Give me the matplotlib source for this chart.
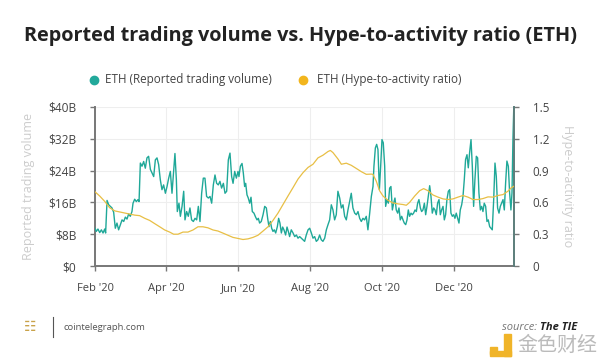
import matplotlib
matplotlib.use("Agg")
import matplotlib.pyplot as plt
import matplotlib.dates as mdates
from matplotlib.lines import Line2D
from matplotlib.patches import Rectangle
import pandas as pd

plt.rcParams['font.family'] = ['Open Sans', 'DejaVu Sans']

# ---------------- data ----------------
start_date = "2020-02-01"
end_day = 354.8

vol_days = [0, 1.1, 2.5, 4.0, 5.4, 6.8, 8.2, 9.0, 10.2, 11.6, 13.0, 14.4, 15.8, 17.2, 18.6, 20.0,
            21.5, 22.9, 24.3, 25.7, 27.1, 28.5, 29.9, 31.3, 32.2, 33.6, 35.0, 36.4, 37.3, 38.4,
            39.8, 41.2, 42.6, 44.0, 45.4, 46.9, 48.3, 49.7, 51.1, 52.5, 53.9, 55.3, 56.7, 58.1,
            59.6, 61.0, 62.4, 63.8, 65.2, 66.6, 67.7, 68.9, 69.7, 71.1, 72.3, 73.7, 75.1, 76.2,
            77.6, 79.0, 80.4, 81.8, 83.3, 84.7, 86.1, 87.5, 88.9, 90.3, 91.7, 93.1, 94.5, 96.0,
            97.4, 98.8, 100.2, 101.6, 103.0, 104.4, 105.8, 107.2, 108.7, 110.1, 111.5, 112.9,
            114.3, 115.7,
            116.9, 118.3, 119.7, 121.1, 121.9, 123.1, 124.5, 125.6, 126.7, 127.6, 128.7, 129.8,
            131.0, 132.1, 133.2, 134.6, 136.0, 137.2, 138.3, 139.4, 140.8, 142.3, 143.7, 145.1,
            146.2, 147.3, 148.5, 149.6, 150.7, 151.8, 153.0, 154.4, 155.5, 156.6, 157.8, 158.9,
            160.0, 161.4, 162.6, 163.7, 164.8, 166.2, 167.7, 169.1, 170.5, 171.9, 173.3, 174.7,
            176.1, 177.5, 178.9, 180.4, 181.8, 183.2, 184.6, 186.0, 187.4, 188.8, 190.2, 191.6,
            193.0, 194.5, 195.9, 197.3, 198.7, 200.1, 201.5, 202.9, 204.3, 205.7, 207.2, 208.6,
            210.0, 211.4, 212.8, 214.2, 215.6, 217.0, 218.4, 219.9, 221.3, 222.7, 224.1, 225.5,
            226.9, 228.3, 229.7, 231.1, 232.6, 234.0,
            235.4, 236.2, 237.4, 238.5, 239.6, 240.8, 241.9, 243.0, 244.1, 245.3, 246.1, 247.2,
            248.4, 249.5, 250.6, 251.8, 252.9, 254.0, 255.1, 256.3, 257.4, 258.5, 259.7, 260.8,
            261.9, 263.1, 264.2, 265.3, 266.4, 267.6, 268.7, 269.8, 271.0, 272.1, 273.2, 274.3,
            275.5, 276.6, 277.7, 278.9, 280.0, 281.1, 282.2, 283.4, 284.5, 285.6, 286.8, 287.9,
            289.0, 290.1, 291.3, 292.4, 293.5, 294.7, 295.8, 296.9, 298.0, 299.2, 300.3, 301.4,
            302.6, 303.7, 304.8, 305.9, 307.1, 308.2, 309.3, 310.5, 311.6, 312.7, 313.8, 315.0,
            316.1, 317.2, 318.4, 319.5, 320.6, 321.7, 322.9, 324.0, 325.1, 326.3, 327.4, 328.5,
            329.6, 330.8, 331.9, 333.0, 334.2, 335.3, 336.4, 337.6, 338.7, 339.8, 340.9, 342.1,
            343.2, 344.3, 345.5, 346.6, 347.7, 348.8, 350.0, 351.1, 352.2, 353.1, 353.9, 354.8]

vol_values = [9.5, 8.7, 9.3, 8.4, 9.1, 8.3, 9.3, 8.3, 16.5, 15.4, 15.0, 14.6, 13.5, 9.5, 10.8, 9.1,
              10.4, 11.6, 11.2, 12.3, 11.8, 13.1, 12.5, 13.7, 15.8, 16.8, 16.2, 16.7, 16.2, 25.9,
              25.1, 26.3, 24.6, 27.2, 27.6, 24.3, 23.4, 22.5, 26.7, 27.2, 25.5, 21.7, 19.2, 20.4,
              18.3, 20.0, 22.1, 23.8, 18.3, 23.8, 28.3, 21.7, 13.7, 15.8, 12.5, 15.0, 18.8, 11.6,
              13.7, 12.5, 14.6, 11.6, 11.2, 12.0, 11.6, 15.0, 11.2, 18.3, 22.1, 22.1, 17.5, 17.1,
              17.5, 15.8, 20.4, 22.9, 20.8, 20.4, 21.3, 19.6, 20.8, 18.3, 18.8, 26.7,
              28.4, 22.5,
              20.8, 23.8, 22.1, 23.8, 22.5, 25.1, 25.8, 23.4, 20.0, 20.8, 17.9, 17.1,
              15.8, 17.3, 13.7, 13.3, 12.3, 11.6, 12.0, 10.8, 11.2, 12.9, 15.0, 14.6,
              12.0, 9.9, 11.2, 9.5, 8.7, 9.1, 8.3, 9.9, 12.0, 10.8, 8.3, 9.8,
              9.1, 7.8, 9.8, 8.7, 7.4, 9.1, 8.3, 7.4, 7.8, 7.0, 7.4, 7.0,
              6.6, 6.2, 7.8, 9.1, 9.5, 8.3, 7.0, 7.4, 6.2, 6.6, 7.8, 6.6,
              6.2, 7.0, 9.1, 10.4, 11.6, 15.4, 14.1, 11.6, 12.9, 18.8, 17.1, 14.6,
              15.4, 12.5, 11.6, 14.1, 16.2, 18.3, 14.6, 13.3, 12.9, 13.7, 12.0, 11.2,
              12.0, 11.6, 12.5, 9.1, 13.3, 17.5,
              20.0, 25.1, 29.7, 30.6, 29.3, 19.2, 25.1, 31.8, 31.0, 25.1, 15.0, 16.7,
              15.8, 19.6, 20.0, 14.1, 15.8, 17.1, 14.1, 13.3, 14.6, 11.6, 12.5, 11.6,
              10.8, 10.4, 11.6, 14.1, 12.5, 13.3, 12.9, 13.3, 14.1, 13.7, 15.8, 16.7,
              14.6, 13.7, 14.1, 15.8, 12.9, 15.0, 17.5, 20.2, 17.5, 13.3, 14.6, 14.1,
              12.9, 15.8, 16.7, 12.9, 14.1, 15.0, 11.6, 12.9, 16.7, 18.8, 19.2, 13.3,
              12.5, 12.9, 12.0, 13.3, 12.0, 10.8, 14.1, 15.4, 17.5, 21.7, 26.8, 28.0,
              24.7, 28.5, 31.8, 25.1, 15.0, 21.7, 27.6, 27.2, 18.4, 14.1, 15.0, 13.7,
              15.8, 15.0, 11.2, 11.6, 9.9, 9.5, 9.1, 16.7, 25.9, 22.6, 14.6, 13.3,
              15.0, 15.8, 16.7, 14.1, 20.9, 26.4, 25.1, 18.4, 14.1, 18.4, 31.8, 42.0]

ratio_days = [0, 4.0, 8.2, 12.4, 16.7, 20.9, 25.1, 29.4, 33.6, 37.8, 42.1, 46.3, 50.5, 54.8,
              59.0, 63.2, 66.6, 70.3, 74.5, 78.7, 83.0, 87.2, 91.4, 95.7, 99.9, 104.1, 108.4,
              112.6, 116.8,
              121.1, 125.3, 129.6, 133.8, 138.0, 142.3, 146.5, 150.7, 155.0, 159.2, 163.4,
              167.7, 171.9, 176.1, 180.4, 184.6, 188.8, 193.0, 197.3, 199.3, 201.5, 205.7,
              208.6, 212.8, 217.0, 221.3, 225.5, 229.7, 234.0,
              235.4, 238.2, 241.0, 243.9, 248.1, 252.3, 256.6, 260.8, 263.6, 266.4, 270.7,
              274.9, 278.3, 282.0, 286.2, 290.4, 294.7, 298.9, 303.1, 307.4, 311.6, 315.8,
              320.1, 324.3, 328.5, 332.8, 337.0, 341.2, 345.5, 349.7, 352.5, 354.8]

ratio_values = [0.70, 0.66, 0.61, 0.55, 0.52, 0.51, 0.50, 0.49, 0.48, 0.475, 0.45, 0.43, 0.40,
                0.37, 0.34, 0.32, 0.30, 0.30, 0.32, 0.32, 0.34, 0.37, 0.37, 0.36, 0.34, 0.33,
                0.31, 0.29, 0.27,
                0.26, 0.25, 0.256, 0.27, 0.29, 0.33, 0.37, 0.43, 0.50, 0.58, 0.66,
                0.74, 0.82, 0.88, 0.93, 0.96, 1.02, 1.045, 1.08, 1.09, 1.07, 1.01,
                0.96, 0.97, 0.95, 0.92, 0.89, 0.865, 0.867,
                0.864, 0.80, 0.71, 0.66, 0.62, 0.595, 0.586, 0.58, 0.573, 0.60, 0.66,
                0.71, 0.73, 0.71, 0.67, 0.65, 0.633, 0.627, 0.633, 0.65, 0.665, 0.65,
                0.627, 0.627, 0.636, 0.652, 0.65, 0.665, 0.674, 0.706, 0.738, 0.753]

vol_ticks = [0, 8, 16, 24, 32, 40]
vol_tick_labels = ["$0", "$8B", "$16B", "$24B", "$32B", "$40B"]
ratio_ticks = [0, 0.3, 0.6, 0.9, 1.2, 1.5]
ratio_tick_labels = ["0", "0.3", "0.6", "0.9", "1.2", "1.5"]
month_ticks = ["2020-02-01", "2020-04-01", "2020-06-01", "2020-08-01", "2020-10-01", "2020-12-01"]

title = "Reported trading volume vs. Hype-to-activity ratio (ETH)"
vol_name = "ETH (Reported trading volume)"
ratio_name = "ETH (Hype-to-activity ratio)"

# ---------------- styling ----------------
TEAL = "#1fa898"
TEAL_DOT = "#22a99b"
YELLOW = "#e8bf45"
YELLOW_DOT = "#f2b51d"
GRID = "#eeeeee"
SPINE = "#777777"
TXT = "#444444"
LIGHT = "#cccccc"

base = pd.Timestamp(start_date)
vx = base + pd.to_timedelta(vol_days, unit="D")
rx = base + pd.to_timedelta(ratio_days, unit="D")

fig = plt.figure(figsize=(6.0, 3.59), dpi=100)
ax = fig.add_axes([95/600, 1-266/359, (514-95)/600, (266-107)/359])
ax2 = ax.twinx()

ax.plot(vx, vol_values, color=TEAL, lw=1.0, solid_joinstyle="round", zorder=3)
ax2.plot(rx, ratio_values, color=YELLOW, lw=0.9, zorder=3)

ax.set_xlim(base, base + pd.Timedelta(days=end_day))
ax.set_ylim(0, 40)
ax2.set_ylim(0, 1.5)

ax.set_xticks(pd.to_datetime(month_ticks))
ax.xaxis.set_major_formatter(mdates.DateFormatter("%b '%y"))
ax.set_yticks(vol_ticks)
ax.set_yticklabels(vol_tick_labels)
ax2.set_yticks(ratio_ticks)
ax2.set_yticklabels(ratio_tick_labels)

ax.grid(True, color=GRID, lw=0.8)
ax.set_axisbelow(True)

for a in (ax, ax2):
    a.spines["top"].set_visible(False)
    a.tick_params(colors=SPINE, labelcolor=TXT, labelsize=8, length=3.5, width=1.0, pad=7)
ax.spines["left"].set_color(SPINE)
ax.spines["left"].set_linewidth(1.4)
ax.spines["bottom"].set_color(SPINE)
ax.spines["bottom"].set_linewidth(1.4)
ax.spines["right"].set_visible(False)
ax2.spines["left"].set_visible(False)
ax2.spines["bottom"].set_visible(False)
ax2.spines["right"].set_color("#5b7d7a")
ax2.spines["right"].set_linewidth(1.4)
ax.tick_params(axis="x", pad=9)
ax.tick_params(axis="y", pad=10, labelsize=8.6)
ax2.tick_params(axis="y", pad=10, labelsize=8.4)

ax.set_ylabel("Reported trading volume", color=LIGHT, fontsize=9, labelpad=9)
ax2.set_ylabel("Hype-to-activity ratio", color=LIGHT, fontsize=9, rotation=270, labelpad=18)

# title
fig.text(0.5, 1-36/359, title, ha="center", va="center", fontsize=14.3,
         fontweight="bold", color="#222222")

# legend
ly = 1-80/359
fig.add_artist(Line2D([94/600], [ly], marker="o", ms=6, color=TEAL_DOT, lw=0,
                      transform=fig.transFigure))
fig.text(105/600, ly, vol_name, ha="left", va="center", fontsize=8.4, color=TXT)
fig.add_artist(Line2D([303/600], [ly], marker="o", ms=6, color=YELLOW_DOT, lw=0,
                      transform=fig.transFigure))
fig.text(317/600, ly, ratio_name, ha="left", va="center", fontsize=8.4, color=TXT)

# footer
fy = 1-327/359
fig.text(24/600, fy, "\u2637", ha="left", va="center", fontsize=10, color="#c9a24a",
         family=["DejaVu Sans"])
fig.add_artist(Line2D([53/600, 53/600], [fy-0.028, fy+0.028], color="#555555", lw=0.8,
                      transform=fig.transFigure))
fig.text(63/600, fy, "cointelegraph.com", ha="left", va="center", fontsize=6.8, color="#555555")
fig.text(540/600, fy, "source: ", ha="right", va="center", fontsize=8, color="#777777",
         style="italic")
fig.text(540/600, fy, "The TIE", ha="left", va="center", fontsize=8, color="#222222",
         style="italic", fontweight="bold")

# watermark
fig.add_artist(Rectangle((490/600, 1-354/359), 7/600, 7/359, color="#f0b429",
                         transform=fig.transFigure))
fig.add_artist(Rectangle((490/600, 1-356/359), 21/600, 5/359, color="#f0b429",
                         transform=fig.transFigure))
fig.add_artist(Rectangle((504/600, 1-356/359), 7/600, 22/359, color="#f0b429",
                         transform=fig.transFigure))
fig.text(517/600, 1-345/359, "金色财经", ha="left", va="center", fontsize=14.4, color="#bbbbbb",
         family=["Noto Sans CJK SC", "DejaVu Sans"])

fig.savefig("out.png", dpi=100)
